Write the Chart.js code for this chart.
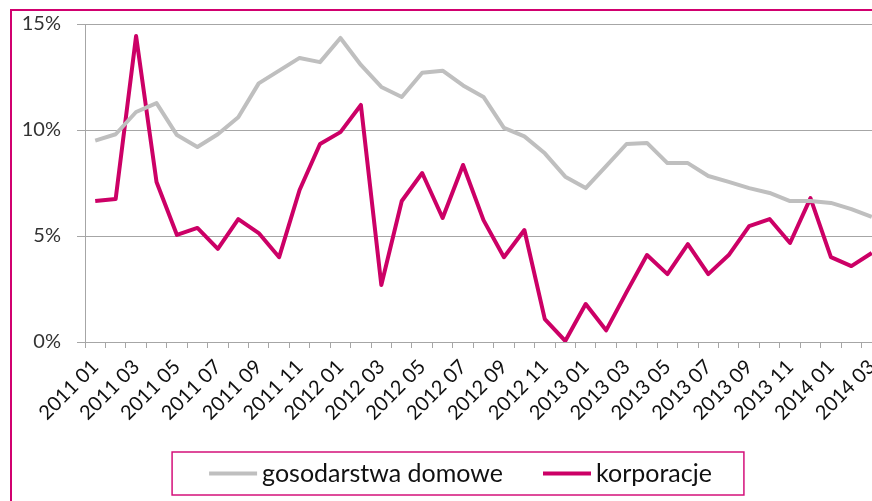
<!doctype html>
<html lang="pl">
  <head>
    <meta charset="utf-8">
    <title>gosodarstwa domowe / korporacje</title>
    <style>
      * { margin: 0; padding: 0; }
      body {
        width: 872px;
        height: 501px;
        overflow: hidden;
        position: relative;
        background: #fff;
      }
      .chartBox {
        position: absolute;
        left: 0;
        top: 0;
        width: 900px;
        height: 501px;
      }
      .frame {
        position: absolute;
        left: 10px;
        top: 9px;
        width: 1000px;
        height: 700px;
        border: 2px solid #d1006f;
        pointer-events: none;
      }
    </style>
  </head>
  <body>
    <div class="chartBox"><canvas id="myChart"></canvas></div>
    <div class="frame"></div>

    <script src="https://cdn.jsdelivr.net/npm/chart.js/dist/chart.umd.min.js"></script>
    <script>
    // data
    const months = [
      '2011 01', '2011 02', '2011 03', '2011 04', '2011 05', '2011 06',
      '2011 07', '2011 08', '2011 09', '2011 10', '2011 11', '2011 12',
      '2012 01', '2012 02', '2012 03', '2012 04', '2012 05', '2012 06',
      '2012 07', '2012 08', '2012 09', '2012 10', '2012 11', '2012 12',
      '2013 01', '2013 02', '2013 03', '2013 04', '2013 05', '2013 06',
      '2013 07', '2013 08', '2013 09', '2013 10', '2013 11', '2013 12',
      '2014 01', '2014 02', '2014 03'
    ]
    const households = [
      9.5, 9.8, 10.85, 11.27, 9.76, 9.2, 9.8, 10.6, 12.2, 12.8,
      13.4, 13.2, 14.34, 13.07, 12.03, 11.56, 12.7, 12.8, 12.1, 11.56,
      10.1, 9.7, 8.9, 7.8, 7.26, 8.3, 9.34, 9.39, 8.44, 8.44,
      7.83, 7.55, 7.26, 7.03, 6.65, 6.65, 6.56, 6.27, 5.9
    ]
    const corporations = [
      6.65, 6.75, 14.43, 7.55, 5.05, 5.38, 4.39, 5.8, 5.14, 4.0,
      7.17, 9.34, 9.9, 11.18, 2.69, 6.65, 7.97, 5.85, 8.35, 5.75,
      4.0, 5.28, 1.08, 0.05, 1.79, 0.55, 2.35, 4.1, 3.2, 4.62,
      3.2, 4.1, 5.47, 5.8, 4.67, 6.79, 4.0, 3.58, 4.2
    ]
    const yTicks = [0, 5, 10, 15]

    const FONT = 'Lato'
    const axisGray = '#a6a6a6'

    // legend drawn as a framed box under the plot, like the Excel original
    const boxLegend = {
      id: 'boxLegend',
      afterDraw: (chart) => {
        const { ctx, chartArea } = chart
        const items = chart.data.datasets
        ctx.save()
        ctx.font = '25px ' + FONT
        const sample = 48
        const gap = 5
        const itemGap = 40
        const padL = 37
        const padR = 32
        let inner = 0
        const widths = items.map(ds => ctx.measureText(ds.label).width)
        widths.forEach((w, i) => {
          inner += sample + gap + w + (i < widths.length - 1 ? itemGap : 0)
        })
        const boxW = padL + inner + padR
        const boxH = 43
        const cx = 458
        const left = cx - boxW / 2
        const top = chartArea.bottom + 110

        ctx.strokeStyle = '#d4107a'
        ctx.lineWidth = 1.5
        ctx.strokeRect(left, top, boxW, boxH)

        let x = left + padL
        const midY = top + boxH / 2
        items.forEach((ds, i) => {
          ctx.strokeStyle = ds.borderColor
          ctx.lineWidth = 4
          ctx.beginPath()
          ctx.moveTo(x, midY)
          ctx.lineTo(x + sample, midY)
          ctx.stroke()
          x += sample + gap
          ctx.fillStyle = '#111'
          ctx.textBaseline = 'middle'
          ctx.textAlign = 'left'
          ctx.fillText(ds.label, x, midY)
          x += widths[i] + itemGap
        })
        ctx.restore()
      }
    }

    const data = {
      labels: months,
      datasets: [
        {
          label: 'gosodarstwa domowe',
          data: households,
          borderColor: '#bfbfbf',
          borderWidth: 4,
          borderJoinStyle: 'round',
          pointRadius: 0,
          tension: 0
        },
        {
          label: 'korporacje',
          data: corporations,
          borderColor: '#cc0066',
          borderWidth: 4,
          borderJoinStyle: 'round',
          pointRadius: 0,
          tension: 0
        }
      ]
    }

    const config = {
      type: 'line',
      data,
      options: {
        responsive: true,
        maintainAspectRatio: false,
        animation: false,
        devicePixelRatio: 1,
        layout: {
          padding: { left: 14, top: 24, right: 18, bottom: 0 }
        },
        plugins: {
          legend: { display: false },
          tooltip: { enabled: false }
        },
        scales: {
          x: {
            offset: true,
            grid: {
              offset: true,
              drawOnChartArea: false,
              drawTicks: true,
              tickLength: 6,
              color: axisGray
            },
            border: { display: true, color: axisGray },
            ticks: {
              autoSkip: false,
              minRotation: 45,
              maxRotation: 45,
              padding: 7,
              color: '#111',
              font: { family: FONT, size: 20 },
              callback: function (value, index) {
                return index % 2 === 0 ? this.getLabelForValue(value) : ''
              }
            },
            afterFit: (scale) => { scale.height = 501 - 342 }
          },
          y: {
            min: 0,
            max: 15,
            afterBuildTicks: (scale) => {
              scale.ticks = yTicks.map(v => ({ value: v }))
            },
            grid: {
              drawTicks: true,
              tickLength: 8,
              color: axisGray
            },
            border: { display: true, color: axisGray },
            ticks: {
              padding: 16,
              color: '#333',
              font: { family: FONT, size: 20 },
              callback: (v) => v + '%'
            },
            afterFit: (scale) => {
              scale.width = 85 - 14
              scale.paddingTop = 0
              scale.paddingBottom = 0
            }
          }
        }
      },
      plugins: [boxLegend]
    }

    const myChart = new Chart(document.getElementById('myChart'), config)
    </script>
  </body>
</html>
